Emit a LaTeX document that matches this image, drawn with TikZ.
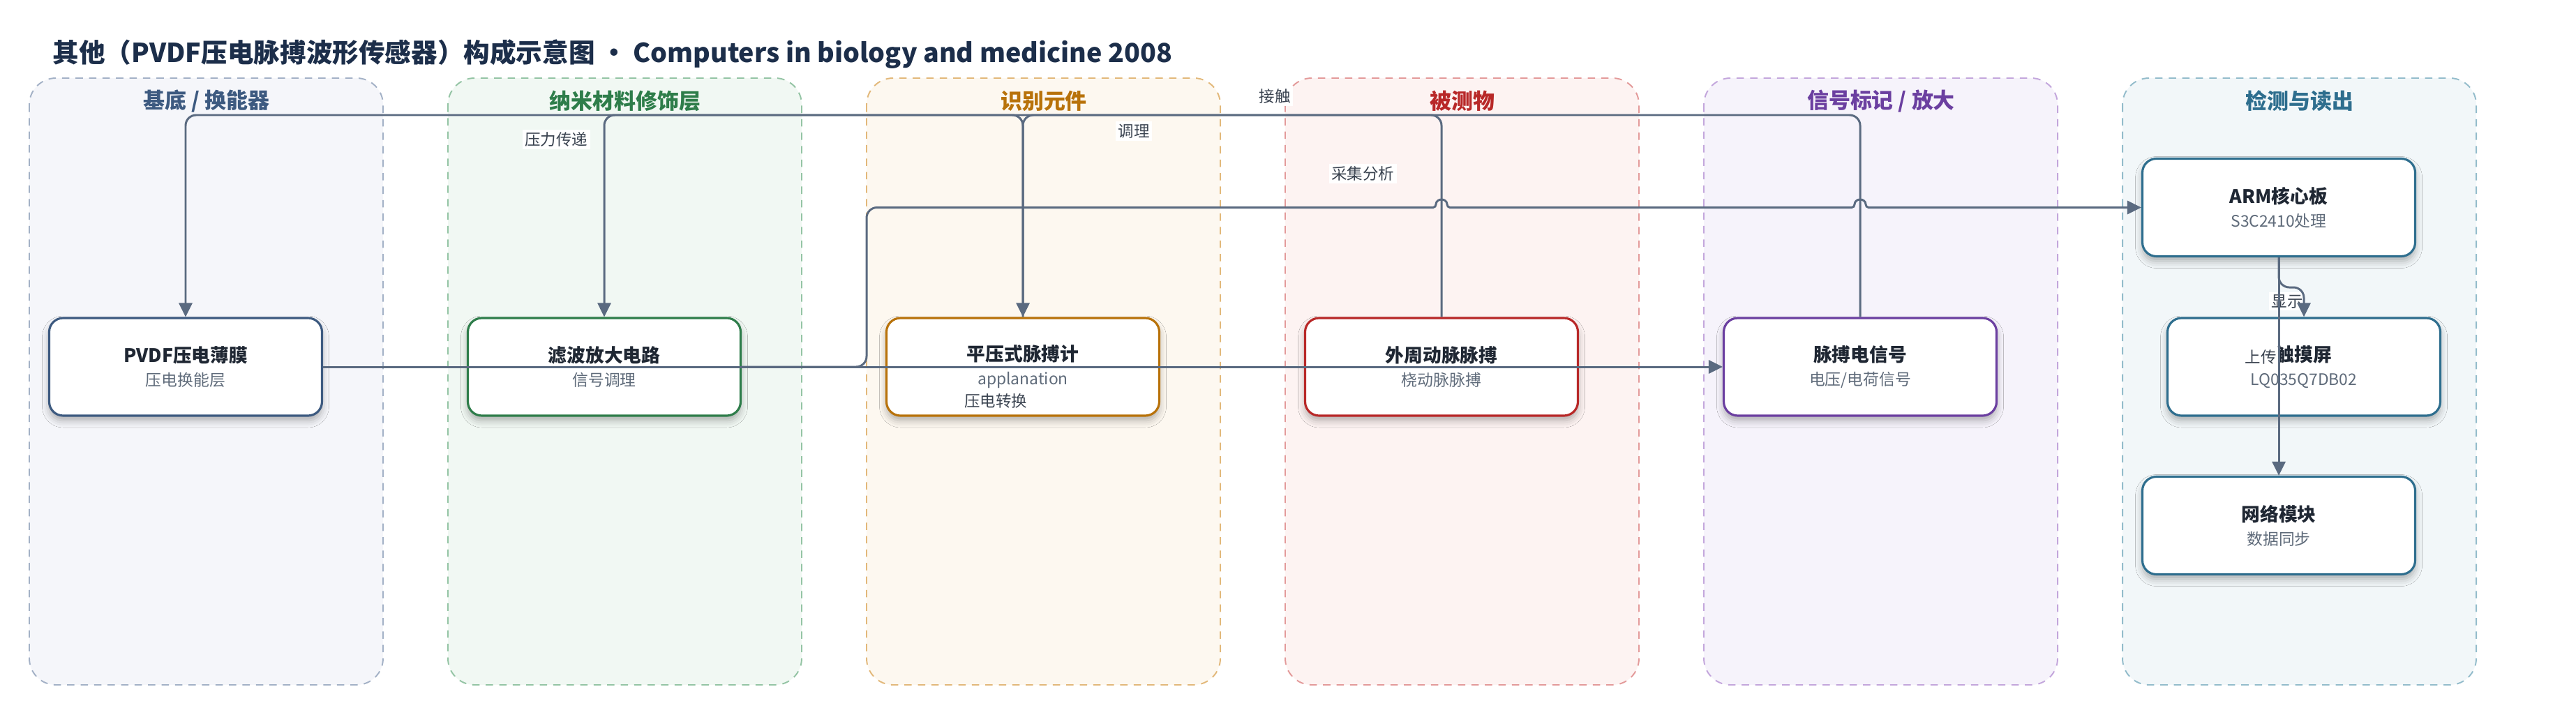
\documentclass[tikz,border=0pt]{standalone}
\usepackage{fontspec}
\setmainfont{Noto Sans CJK SC}
\usetikzlibrary{arrows.meta,shadows.blur}

\definecolor{titlec}{HTML}{1C2E4A}
\definecolor{namec}{HTML}{1F2733}
\definecolor{subc}{HTML}{5F6B7A}
\definecolor{lblc}{HTML}{3A4350}
\definecolor{linec}{HTML}{5A6A80}
\definecolor{blueA}{HTML}{3D5A80}\definecolor{blueB}{HTML}{A3B1C6}\definecolor{blueC}{HTML}{F5F6FA}
\definecolor{greenA}{HTML}{2E7D4A}\definecolor{greenB}{HTML}{94C4A4}\definecolor{greenC}{HTML}{F1F8F3}
\definecolor{orangeA}{HTML}{B8720A}\definecolor{orangeB}{HTML}{E2B87A}\definecolor{orangeC}{HTML}{FDF8F0}
\definecolor{redA}{HTML}{B82828}\definecolor{redB}{HTML}{E39A9A}\definecolor{redC}{HTML}{FDF3F2}
\definecolor{purpA}{HTML}{6B3FA0}\definecolor{purpB}{HTML}{C3A6DC}\definecolor{purpC}{HTML}{F6F3FB}
\definecolor{tealA}{HTML}{2E6E8E}\definecolor{tealB}{HTML}{93BCCB}\definecolor{tealC}{HTML}{F2F7F9}

\tikzset{
  lane/.style 2 args={draw=#1, fill=#2, line width=0.55pt, dash pattern=on 3pt off 2.5pt, rounded corners=0.38cm},
  head/.style={text=#1, font=\bfseries\fontsize{8.8}{10}\selectfont},
  box/.style={draw=#1, line width=0.9pt, fill=white, rounded corners=0.2cm,
    minimum width=3.91cm, minimum height=1.40cm, align=center, text=namec,
    font=\fontsize{7.6}{9.6}\selectfont,
    blur shadow={shadow xshift=0pt, shadow yshift=-0.07cm, shadow blur radius=0.1cm, shadow opacity=30}},
  lbl/.style={fill=white, inner sep=1pt, text=lblc, font=\fontsize{6.4}{7.5}\selectfont},
  edge/.style={draw=linec, line width=0.85pt, rounded corners=0.15cm, -{Triangle[length=0.2cm,width=0.19cm]}},
}

\begin{document}
\begin{tikzpicture}
\useasboundingbox (0,0) rectangle (36.92,-10.07);

\node[anchor=west, inner sep=0pt, text=titlec, font=\bfseries\fontsize{10.7}{13}\selectfont] (title) at (0.75,-0.78)
  {其他（PVDF压电脉搏波形传感器）构成示意图 · Computers in biology and medicine 2008};

% lanes
\draw[lane={blueB}{blueC}] (0.42,-1.12) rectangle (5.49,-9.82);
\draw[lane={greenB}{greenC}] (6.42,-1.12) rectangle (11.49,-9.82);
\draw[lane={orangeB}{orangeC}] (12.42,-1.12) rectangle (17.49,-9.82);
\draw[lane={redB}{redC}] (18.42,-1.12) rectangle (23.49,-9.82);
\draw[lane={purpB}{purpC}] (24.42,-1.12) rectangle (29.49,-9.82);
\draw[lane={tealB}{tealC}] (30.42,-1.12) rectangle (35.49,-9.82);

\node[head=blueA] (h1) at (2.96,-1.45) {基底 / 换能器};
\node[head=greenA] (h2) at (8.96,-1.45) {纳米材料修饰层};
\node[head=orangeA] (h3) at (14.96,-1.45) {识别元件};
\node[head=redA] (h4) at (20.96,-1.45) {被测物};
\node[head=purpA] (h5) at (26.96,-1.45) {信号标记 / 放大};
\node[head=tealA] (h6) at (32.96,-1.45) {检测与读出};

% boxes
\node[box=blueA] (pvdf) at (2.66,-5.26) {\textbf{PVDF压电薄膜}\\{\color{subc}\fontsize{6.5}{9.6}\selectfont 压电换能层}};
\node[box=greenA] (filt) at (8.66,-5.26) {\textbf{滤波放大电路}\\{\color{subc}\fontsize{6.5}{9.6}\selectfont 信号调理}};
\node[box=orangeA] (tono) at (14.66,-5.26) {\textbf{平压式脉搏计}\\{\color{subc}\fontsize{6.5}{9.6}\selectfont applanation}};
\node[box=redA] (pulse) at (20.66,-5.26) {\textbf{外周动脉脉搏}\\{\color{subc}\fontsize{6.5}{9.6}\selectfont 桡动脉脉搏}};
\node[box=purpA] (sig) at (26.66,-5.26) {\textbf{脉搏电信号}\\{\color{subc}\fontsize{6.5}{9.6}\selectfont 电压/电荷信号}};
\node[box=tealA] (arm) at (32.66,-2.975) {\textbf{ARM核心板}\\{\color{subc}\fontsize{6.5}{9.6}\selectfont S3C2410处理}};
\node[box=tealA] (lcd) at (33.02,-5.26) {\textbf{触摸屏}\\{\color{subc}\fontsize{6.5}{9.6}\selectfont LQ035Q7DB02}};
\node[box=tealA] (net) at (32.66,-7.535) {\textbf{网络模块}\\{\color{subc}\fontsize{6.5}{9.6}\selectfont 数据同步}};

% edge labels
\node[lbl] (l1) at (18.27,-1.38) {接触};
\node[lbl] (l2) at (7.97,-2.00) {压力传递};
\node[lbl] (l3) at (16.25,-1.88) {调理};
\node[lbl] (l4) at (14.27,-5.75) {压电转换};
\node[lbl] (l5) at (19.53,-2.49) {采集分析};
\node[lbl] (l6) at (32.78,-4.32) {显示};
\node[lbl] (l7) at (32.40,-5.12) {上传};

% connectors
\draw[edge] (pulse.north) -- (20.66,-1.65) -- (14.66,-1.65) -- (tono.north);
\draw[edge] (tono.north) -- (14.66,-1.65) -- (2.66,-1.65) -- (pvdf.north);
\draw[edge] (sig.north) -- (26.66,-1.65) -- (8.66,-1.65) -- (filt.north);
\draw[edge] (pvdf.east) -- (sig.west);
\draw[edge, sharp corners] (filt.east) -- (12.27,-5.26) to[out=0,in=-90] (12.42,-5.11)
  -- (12.42,-3.125) to[out=90,in=180] (12.57,-2.975) -- (20.54,-2.975)
  to[out=0,in=-90] (20.58,-2.93) to[out=90,in=180] (20.66,-2.86) to[out=0,in=90] (20.74,-2.93) to[out=-90,in=180] (20.78,-2.975)
  -- (26.54,-2.975)
  to[out=0,in=-90] (26.58,-2.93) to[out=90,in=180] (26.66,-2.86) to[out=0,in=90] (26.74,-2.93) to[out=-90,in=180] (26.78,-2.975)
  -- (arm.west);
\draw[edge] (arm.south) -- (32.66,-4.12) -| (lcd.north);
\draw[edge] (arm.south) -- (net.north);
\end{tikzpicture}
\end{document}
